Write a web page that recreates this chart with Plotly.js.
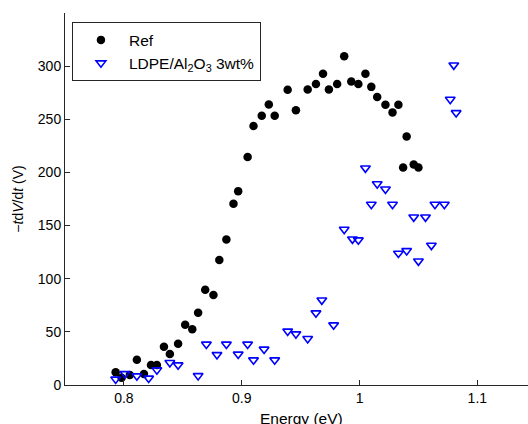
<!DOCTYPE html>
<html>
<head>
<meta charset="utf-8">
<script src="https://cdn.plot.ly/plotly-3.0.1.min.js"></script>
<style>html,body{margin:0;padding:0;background:#fff;overflow:hidden;}#chart{width:528px;height:424px;}</style>
</head>
<body>
<div id="chart"></div>
<script>
// Reference sample (black dots)
const refEnergy = [0.793,0.798,0.805,0.811,0.817,0.823,0.828,0.834,0.839,0.846,0.852,0.858,0.863,0.869,0.876,0.881,0.887,0.893,0.897,0.905,0.910,0.917,0.923,0.928,0.939,0.946,0.956,0.963,0.969,0.974,0.981,0.987,0.993,0.999,1.005,1.010,1.015,1.022,1.028,1.033,1.037,1.040,1.046,1.050];
const refValue  = [11.9,6.9,9.4,23.8,10.3,18.8,18.8,36.0,29.2,38.8,56.7,52.4,68.0,89.6,84.6,117.6,137.0,170.5,182.4,214.6,243.6,253.3,264.0,253.3,277.7,258.6,278.1,283.1,292.8,278.1,283.1,309.4,285.6,283.1,292.8,280.5,270.9,263.6,256.5,263.6,204.7,233.9,207.4,204.7];
// LDPE/Al2O3 3wt% (blue triangles)
const ldpeEnergy = [0.793,0.801,0.811,0.821,0.828,0.839,0.846,0.863,0.870,0.879,0.887,0.897,0.905,0.910,0.919,0.928,0.939,0.946,0.956,0.963,0.968,0.978,0.987,0.994,0.999,1.005,1.010,1.015,1.022,1.028,1.033,1.040,1.046,1.050,1.056,1.061,1.064,1.072,1.077,1.080,1.082];
const ldpeValue  = [5.4,10.6,8.5,6.3,14.1,21.0,18.8,8.7,38.3,28.5,38.3,28.9,38.3,23.5,33.6,23.5,50.6,48.0,43.6,67.7,79.9,56.4,146.4,137.3,136.4,204.1,169.9,189.2,184.3,169.9,123.9,126.3,158.0,116.6,158.0,131.4,169.9,169.9,268.7,301.0,256.1];
const xTickVals = [0.8,0.9,1.0,1.1];
const xTickText = ['0.8','0.9','1','1.1'];
const yTickVals = [0,50,100,150,200,250,300];
const xTitle = 'Energy (eV)';
const yTitle = '\u2212<i>t</i>d<i>V</i>/d<i>t</i> (V)';

const FONT = 'Liberation Sans, Arial, Helvetica, sans-serif';
const traces = [
  {x: refEnergy, y: refValue, type:'scatter', mode:'markers', name:'Ref',
   marker:{symbol:'circle', size:8.5, color:'#000000'}},
  {x: ldpeEnergy, y: ldpeValue, type:'scatter', mode:'markers', name:'LDPE/Al<sub>2</sub>O<sub>3</sub> 3wt%',
   marker:{symbol:'triangle-down-open', size:8.5, color:'#0000ff', line:{width:1.6, color:'#0000ff'}}}
];
const layout = {
  width:528, height:424,
  margin:{l:65, r:0, t:13, b:39},
  paper_bgcolor:'#ffffff', plot_bgcolor:'#ffffff',
  font:{family:FONT, size:14, color:'#000'},
  showlegend:true,
  legend:{x:0.015, y:0.975, xanchor:'left', yanchor:'top', bgcolor:'#ffffff',
          bordercolor:'#262626', borderwidth:1, font:{family:FONT, size:15.5, color:'#000'},
          itemwidth:46, tracegroupgap:0},
  xaxis:{range:[0.75,1.143], tickvals:xTickVals, ticktext:xTickText, ticks:'inside', ticklen:5,
         tickcolor:'#262626', showline:true, linecolor:'#262626', linewidth:1, showgrid:false,
         zeroline:false, tickfont:{family:FONT,size:14,color:'#000'}, automargin:false},
  yaxis:{range:[0,350], tickvals:yTickVals, ticks:'inside', ticklen:5,
         tickcolor:'#262626', showline:true, linecolor:'#262626', linewidth:1, showgrid:false,
         zeroline:false, tickfont:{family:FONT,size:14,color:'#000'},
         title:{text:yTitle, font:{family:FONT,size:14,color:'#000'}, standoff:10}},
  annotations:[{text:xTitle, xref:'paper', yref:'paper', x:0.51, y:-0.063, xanchor:'center', yanchor:'top',
                showarrow:false, font:{family:FONT,size:15.5,color:'#000'}}]
};
Plotly.newPlot('chart', traces, layout, {displayModeBar:false, staticPlot:true});
</script>
</body>
</html>
